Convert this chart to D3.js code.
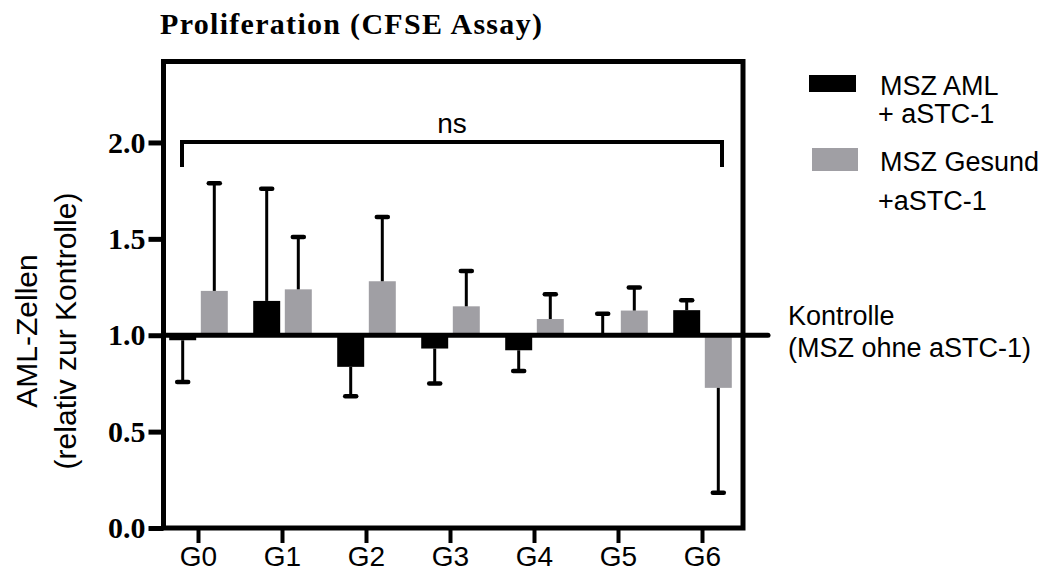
<!DOCTYPE html>
<html>
<head>
<meta charset="utf-8">
<script src="https://cdn.jsdelivr.net/npm/d3@7"></script>
<style>
    body { margin: 0; background: #fff; }
    .serif { font-family: "Liberation Serif", "Times New Roman", serif; font-weight: bold; }
    .sans { font-family: "Liberation Sans", Arial, sans-serif; }
</style>
</head>
<body>
<script>
//chart data
var categories = ["G0", "G1", "G2", "G3", "G4", "G5", "G6"];
var series = ["MSZ AML + aSTC-1", "MSZ Gesund +aSTC-1"];
var amlMean = [0.974, 1.178, 0.836, 0.931, 0.922, 1.01, 1.13];
var amlErr = [0.216, 0.582, 0.152, 0.181, 0.107, 0.102, 0.051];
var gesundMean = [1.23, 1.238, 1.28, 1.15, 1.084, 1.128, 0.727];
var gesundErr = [0.559, 0.271, 0.333, 0.183, 0.128, 0.119, 0.544];
var yTicks = [0.0, 0.5, 1.0, 1.5, 2.0];
var controlValue = 1.0;

window.onload = drawChart();

function drawChart() {
    var width = 1051,
    height = 572;

    var svg = d3.select("body")
    .append("svg")
    .attr("width", width)
    .attr("height", height);

    //plot frame
    var left = 163.5, right = 743, bottom = 528;

    var y = d3.scaleLinear()
    .domain([0, 2.42])
    .range([bottom, 61.5]);

    var x0 = d3.scaleBand()
    .domain(categories)
    .range([156.5, 744.5]);

    var bw = x0.bandwidth();
    var x1 = d3.scaleBand()
    .domain(series)
    .range([bw / 2 - 31.6, bw / 2 + 31.6])
    .paddingInner(0.146)
    .paddingOuter(0.073);

    var colors = ["#000000", "#a09fa4"];

    //build rows for the bars
    var rows = [];
    categories.forEach(function(c, i){
        rows.push({cat: c, s: series[0], v: amlMean[i], e: amlErr[i], col: colors[0]});
        rows.push({cat: c, s: series[1], v: gesundMean[i], e: gesundErr[i], col: colors[1]});
    });

    //bars grow from the control line
    svg.selectAll(".bar")
    .data(rows)
    .enter()
    .append("rect")
    .attr("class", "bar")
    .attr("x", function(d){ return x0(d.cat) + x1(d.s); })
    .attr("width", x1.bandwidth())
    .attr("y", function(d){ return y(Math.max(d.v, controlValue)); })
    .attr("height", function(d){ return Math.abs(y(d.v) - y(controlValue)); })
    .attr("fill", function(d){ return d.col; });

    //error bars, pointing away from the control line
    var errEnd = function(d){ return d.v >= controlValue ? d.v + d.e : d.v - d.e; };
    var cx = function(d){ return x0(d.cat) + x1(d.s) + x1.bandwidth() / 2; };

    svg.selectAll(".errLine")
    .data(rows)
    .enter()
    .append("line")
    .attr("class", "errLine")
    .attr("x1", cx)
    .attr("x2", cx)
    .attr("y1", function(d){ return y(d.v); })
    .attr("y2", function(d){ return y(errEnd(d)); })
    .attr("stroke", "#000")
    .attr("stroke-width", 3);

    svg.selectAll(".errCap")
    .data(rows)
    .enter()
    .append("line")
    .attr("class", "errCap")
    .attr("x1", function(d){ return cx(d) - 5.5; })
    .attr("x2", function(d){ return cx(d) + 5.5; })
    .attr("y1", function(d){ return y(errEnd(d)); })
    .attr("y2", function(d){ return y(errEnd(d)); })
    .attr("stroke", "#000")
    .attr("stroke-width", 4.5)
    .attr("stroke-linecap", "round");

    //control line at 1.0
    svg.append("line")
    .attr("x1", left)
    .attr("x2", 768)
    .attr("y1", y(controlValue))
    .attr("y2", y(controlValue))
    .attr("stroke", "#000")
    .attr("stroke-width", 5)
    .attr("stroke-linecap", "round");

    //frame
    svg.append("rect")
    .attr("x", left)
    .attr("y", y(2.42))
    .attr("width", right - left)
    .attr("height", bottom - y(2.42))
    .attr("fill", "none")
    .attr("stroke", "#000")
    .attr("stroke-width", 5);

    //y axis
    var yAxis = svg.append("g")
    .attr("transform", "translate(" + left + ",0)")
    .call(d3.axisLeft(y).tickValues(yTicks).tickFormat(d3.format(".1f")).tickSize(15).tickPadding(3));

    yAxis.select(".domain").remove();
    yAxis.selectAll(".tick line").attr("stroke", "#000").attr("stroke-width", 5);
    yAxis.selectAll(".tick text")
    .attr("class", "serif")
    .attr("font-size", 30)
    .attr("fill", "#000");

    //x axis
    var xAxis = svg.append("g")
    .attr("transform", "translate(0," + bottom + ")")
    .call(d3.axisBottom(x0).tickSize(15).tickPadding(3));

    xAxis.select(".domain").remove();
    xAxis.selectAll(".tick line").attr("stroke", "#000").attr("stroke-width", 4);
    xAxis.selectAll(".tick text")
    .attr("class", "sans")
    .attr("font-size", 28)
    .attr("fill", "#000");

    //title
    svg.append("text")
    .attr("class", "serif")
    .attr("x", 160)
    .attr("y", 34)
    .attr("font-size", 30)
    .attr("letter-spacing", 1.3)
    .text("Proliferation (CFSE Assay)");

    //y axis title
    var yTitle = svg.append("text")
    .attr("class", "sans")
    .attr("font-size", 30)
    .attr("text-anchor", "middle")
    .attr("transform", "translate(0,331) rotate(-90)");

    yTitle.append("tspan").attr("x", 0).attr("y", 37).text("AML-Zellen");
    yTitle.append("tspan").attr("x", 0).attr("y", 76).text("(relativ zur Kontrolle)");

    //significance bracket
    var bx1 = 182, bx2 = 722, by = 142;
    svg.append("path")
    .attr("d", "M" + bx1 + "," + (by + 25) + "V" + by + "H" + bx2 + "V" + (by + 25))
    .attr("fill", "none")
    .attr("stroke", "#000")
    .attr("stroke-width", 4);

    svg.append("text")
    .attr("class", "sans")
    .attr("x", (bx1 + bx2) / 2)
    .attr("y", 133)
    .attr("font-size", 28)
    .attr("text-anchor", "middle")
    .text("ns");

    //control label
    var ctrl = svg.append("text")
    .attr("class", "sans")
    .attr("font-size", 27);
    ctrl.append("tspan").attr("x", 788).attr("y", 325).text("Kontrolle");
    ctrl.append("tspan").attr("x", 788).attr("y", 357).text("(MSZ ohne aSTC-1)");

    //legend
    svg.append("rect")
    .attr("x", 809).attr("y", 75)
    .attr("width", 47).attr("height", 17)
    .attr("fill", colors[0]);

    svg.append("rect")
    .attr("x", 812).attr("y", 148)
    .attr("width", 46).attr("height", 23)
    .attr("fill", colors[1]);

    var leg1 = svg.append("text").attr("class", "sans").attr("font-size", 27);
    leg1.append("tspan").attr("x", 880).attr("y", 95).text("MSZ AML");
    leg1.append("tspan").attr("x", 878).attr("y", 123).text("+ aSTC-1");

    var leg2 = svg.append("text").attr("class", "sans").attr("font-size", 27);
    leg2.append("tspan").attr("x", 880).attr("y", 171).text("MSZ Gesund");
    leg2.append("tspan").attr("x", 878).attr("y", 210).text("+aSTC-1");
};
</script>
</body>
</html>
